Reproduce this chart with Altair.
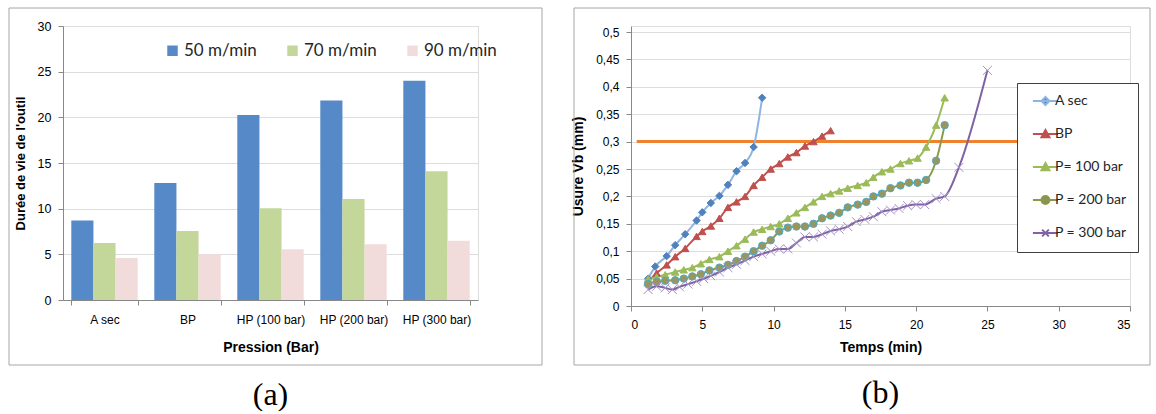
import altair as alt
import pandas as pd

# ---------------- (a) bar chart data ----------------
categories = ["A sec", "BP", "HP (100 bar)", "HP (200 bar)", "HP (300 bar)"]
speeds = ["50 m/min", "70 m/min", "90 m/min"]
life_50 = [8.7, 12.8, 20.25, 21.85, 24.0]
life_70 = [6.25, 7.55, 10.05, 11.05, 14.1]
life_90 = [4.6, 5.0, 5.55, 6.1, 6.5]
bar_colors = ["#5589C7", "#C4D79B", "#F2DCDB"]

# ---------------- (b) wear curves data ----------------
series_names = ["A sec", "BP", "P= 100 bar", "P = 200 bar", "P = 300 bar"]
t_asec = [1.2, 1.7, 2.5, 3.1, 3.8, 4.6, 5.0, 5.6, 6.2, 6.8, 7.4, 8.0, 8.6, 9.2]
v_asec = [0.05, 0.072, 0.091, 0.111, 0.131, 0.156, 0.171, 0.188, 0.201, 0.221, 0.246, 0.261, 0.29, 0.38]
t_bp = [1.2, 1.8, 2.5, 3.1, 3.8, 4.6, 5.0, 5.6, 6.2, 6.8, 7.4, 8.0, 8.6, 9.2, 9.8, 10.4, 11.0, 11.6, 12.2, 12.8, 13.4, 14.0]
v_bp = [0.045, 0.06, 0.075, 0.09, 0.105, 0.127, 0.136, 0.146, 0.16, 0.18, 0.19, 0.2, 0.22, 0.235, 0.25, 0.26, 0.272, 0.28, 0.292, 0.3, 0.31, 0.32]
t_100 = [1.2, 1.8, 2.4, 3.1, 3.7, 4.3, 4.9, 5.5, 6.2, 6.8, 7.4, 8.0, 8.6, 9.2, 9.8, 10.4, 11.0, 11.6, 12.2, 12.8,
         13.4, 14.0, 14.6, 15.2, 15.9, 16.5, 17.0, 17.6, 18.2, 18.9, 19.5, 20.1, 20.7, 21.4, 22.0]
v_100 = [0.05, 0.053, 0.057, 0.062, 0.066, 0.07, 0.077, 0.085, 0.09, 0.1, 0.11, 0.122, 0.135, 0.14, 0.145, 0.15, 0.16, 0.17, 0.18, 0.19,
         0.2, 0.205, 0.21, 0.215, 0.22, 0.225, 0.235, 0.245, 0.25, 0.26, 0.265, 0.27, 0.29, 0.33, 0.38]
t_200 = [1.2, 1.8, 2.4, 3.1, 3.7, 4.3, 4.9, 5.5, 6.2, 6.8, 7.4, 8.0, 8.6, 9.2, 9.8, 10.4, 11.0, 11.6, 12.2, 12.8,
         13.4, 14.0, 14.6, 15.2, 15.9, 16.5, 17.0, 17.6, 18.2, 18.9, 19.5, 20.1, 20.7, 21.4, 22.0]
v_200 = [0.04, 0.044, 0.046, 0.047, 0.05, 0.054, 0.058, 0.065, 0.07, 0.075, 0.082, 0.09, 0.1, 0.11, 0.12, 0.136, 0.143, 0.145, 0.145, 0.15,
         0.16, 0.165, 0.17, 0.18, 0.185, 0.19, 0.2, 0.205, 0.215, 0.22, 0.225, 0.225, 0.23, 0.265, 0.33]
t_300 = [1.2, 1.8, 2.4, 2.9, 3.4, 4.0, 4.6, 5.1, 5.6, 6.2, 6.8, 7.4, 8.0, 8.6, 9.2, 9.8, 10.4, 11.0, 11.6, 12.2,
         12.8, 13.4, 14.0, 14.6, 15.2, 15.8, 16.4, 17.0, 17.6, 18.2, 18.8, 19.4, 20.0, 20.6, 21.4, 22.0, 23.0, 25.0]
v_300 = [0.03, 0.036, 0.033, 0.03, 0.035, 0.04, 0.045, 0.05, 0.055, 0.062, 0.07, 0.076, 0.083, 0.09, 0.095, 0.1, 0.104, 0.104, 0.115, 0.126,
         0.126, 0.131, 0.137, 0.14, 0.145, 0.154, 0.158, 0.163, 0.172, 0.175, 0.178, 0.183, 0.185, 0.185, 0.196, 0.2, 0.253, 0.43]
threshold_start, threshold_end, threshold_value = 0.4, 35, 0.3
y_ticks_b = [0, 0.05, 0.1, 0.15, 0.2, 0.25, 0.3, 0.35, 0.4, 0.45, 0.5]
x_ticks_b = [0, 5, 10, 15, 20, 25, 30, 35]

line_colors = ["#8EB4E3", "#C0504D", "#9BBB59", "#8A9A4C", "#7E62A3"]
marker_fill = ["#4F81BD", "#C0504D", "#9BBB59", "#9A955C", "transparent"]
marker_stroke = ["#4F81BD", "#C0504D", "#9BBB59", "#4BACC6", "#A48FC6"]
marker_shapes = ["diamond", "triangle-up", "triangle-up", "circle", "M-1.2,-1.2L1.2,1.2M1.2,-1.2L-1.2,1.2"]
legend_fill = ["#4F81BD", "#C0504D", "#9BBB59", "#948A54", "transparent"]
# legend glyphs: a short line segment with the series marker in its middle
legend_shapes = [
    "M-0.5,0L5.5,0M2.5,-0.95L3.45,0L2.5,0.95L1.55,0Z",
    "M-0.5,0L5.5,0M2.5,-0.95L3.45,0.75L1.55,0.75Z",
    "M-0.5,0L5.5,0M2.5,-0.95L3.45,0.75L1.55,0.75Z",
    "M-0.5,0L5.5,0M1.55,0A0.95,0.95 0 1,0 3.45,0A0.95,0.95 0 1,0 1.55,0Z",
    "M-0.5,0L5.5,0M1.7,-0.8L3.3,0.8M3.3,-0.8L1.7,0.8",
]

FONT = "Lato"

# ---------------- build tables ----------------
bar_rows = []
for vals, sp in zip([life_50, life_70, life_90], speeds):
    for c, v in zip(categories, vals):
        bar_rows.append({"cat": c, "speed": sp, "val": v})
bar_df = pd.DataFrame(bar_rows)

rows = []
for name, ts, vs in zip(series_names, [t_asec, t_bp, t_100, t_200, t_300], [v_asec, v_bp, v_100, v_200, v_300]):
    for t, v in zip(ts, vs):
        rows.append({"t": t, "v": v, "serie": name})
wear_df = pd.DataFrame(rows)
thr_df = pd.DataFrame({"t": [threshold_start], "t2": [threshold_end], "v": [threshold_value]})
one = pd.DataFrame({"k": [0]})

# ---------------- (a) ----------------
frame_a = alt.Chart(one).mark_rect(filled=False, stroke="#A6A6A6", strokeWidth=1).encode(
    x=alt.value(-54), x2=alt.value(479), y=alt.value(-18), y2=alt.value(339)
)
bars = alt.Chart(bar_df).mark_bar().encode(
    x=alt.X("cat:N", sort=categories, scale=alt.Scale(paddingInner=0.2, paddingOuter=0.1),
            axis=alt.Axis(title="Pression (Bar)", labelAngle=0, tickBand="extent", grid=False,
                          tickSize=5, labelPadding=9, labelFontSize=12, titleFontSize=14,
                          titleFontWeight="bold", titlePadding=15)),
    xOffset=alt.XOffset("speed:N", sort=speeds, scale=alt.Scale(paddingInner=0, paddingOuter=0)),
    y=alt.Y("val:Q", scale=alt.Scale(domain=[0, 30], nice=False),
            axis=alt.Axis(title="Durée de vie de l'outil", values=[0, 5, 10, 15, 20, 25, 30],
                          labelOverlap=False, tickSize=5, labelPadding=7, labelFontSize=12.5,
                          titleFontSize=13, titleFontWeight="bold", titlePadding=10)),
    color=alt.Color("speed:N", sort=speeds, scale=alt.Scale(domain=speeds, range=bar_colors),
                    legend=alt.Legend(title=None, orient="none", legendX=101, legendY=16,
                                      direction="horizontal", symbolType="square", symbolSize=110,
                                      symbolStrokeWidth=0, labelFontSize=17, labelOffset=3,
                                      columnPadding=27, labelColor="#262626", labelFont=FONT)),
)
panel_a = alt.layer(frame_a, bars).properties(
    width=415, height=274,
    title=alt.Title("(a)", orient="bottom", font="Liberation Serif", fontSize=32,
                    fontWeight="normal", color="#000000", offset=14),
)

# ---------------- (b) ----------------
# plot area is 6 px taller than (a) at the top; 0.5 sits 6 px below the top edge
HB = 280
y_top = 0.5 * HB / 274
frame_b = alt.Chart(one).mark_rect(filled=False, stroke="#A6A6A6", strokeWidth=1).encode(
    x=alt.value(-57), x2=alt.value(519), y=alt.value(-18), y2=alt.value(339)
)
x_scale_b = alt.Scale(domain=[0, 35], nice=False)
y_scale_b = alt.Scale(domain=[0, y_top], nice=False)
x_axis_b = alt.Axis(title="Temps (min)", values=x_ticks_b, grid=False,
                    tickSize=5, labelPadding=8, labelFontSize=12, titleFontSize=14,
                    titleFontWeight="bold", titlePadding=10)
y_axis_b = alt.Axis(title="Usure  Vb (mm)", values=y_ticks_b,
                    labelExpr="replace(format(datum.value, '.2~f'), '.', ',')", labelOverlap=False,
                    tickSize=5, labelPadding=7, labelFontSize=12, titleFontSize=14,
                    titleFontWeight="bold", titlePadding=10)
xb = alt.X("t:Q", scale=x_scale_b, axis=x_axis_b)
yb = alt.Y("v:Q", scale=y_scale_b, axis=y_axis_b)

thr = alt.Chart(thr_df).mark_rule(color="#F0812F", strokeWidth=3).encode(
    x=xb, x2="t2:Q", y=yb,
)
lines = alt.Chart(wear_df).mark_line(strokeWidth=2, interpolate="monotone").encode(
    x=xb, y=yb,
    color=alt.Color("serie:N", scale=alt.Scale(domain=series_names, range=line_colors), legend=None),
)
points = alt.Chart(wear_df).mark_point(filled=True, size=55, strokeWidth=1, opacity=1).encode(
    x=xb, y=yb,
    fill=alt.Fill("serie:N", scale=alt.Scale(domain=series_names, range=marker_fill), legend=None),
    stroke=alt.Stroke("serie:N", scale=alt.Scale(domain=series_names, range=marker_stroke), legend=None),
    shape=alt.Shape("serie:N", scale=alt.Scale(domain=series_names, range=marker_shapes), legend=None),
)
leg_props = dict(title=None, orient="none", legendX=386, legendY=57, symbolSize=70,
                 symbolStrokeWidth=2, labelFontSize=14, labelOffset=13, rowPadding=17, padding=11,
                 fillColor="white", strokeColor="#404040", labelColor="#262626", labelFont=FONT)
legend_layer = alt.Chart(wear_df).transform_filter("false").mark_point(
    filled=True, size=70, strokeWidth=2, opacity=1
).encode(
    x=xb, y=yb,
    fill=alt.Fill("serie:N", scale=alt.Scale(domain=series_names, range=legend_fill),
                  legend=alt.Legend(**leg_props)),
    stroke=alt.Stroke("serie:N", scale=alt.Scale(domain=series_names, range=line_colors),
                      legend=alt.Legend(**leg_props)),
    shape=alt.Shape("serie:N", scale=alt.Scale(domain=series_names, range=legend_shapes),
                    legend=alt.Legend(**leg_props)),
)
panel_b = alt.layer(frame_b, thr, lines, points, legend_layer).resolve_scale(
    fill="independent", stroke="independent", shape="independent"
).properties(
    width=499, height=HB,
    title=alt.Title("(b)", orient="bottom", font="Liberation Serif", fontSize=32,
                    fontWeight="normal", color="#000000", offset=12),
)

chart = alt.concat(panel_a, panel_b, columns=2, spacing=28, align="none").resolve_scale(
    color="independent", fill="independent", stroke="independent", shape="independent"
).resolve_legend(
    color="independent", fill="independent", stroke="independent", shape="independent"
).properties(
    padding={"left": 8, "top": 7, "right": 0, "bottom": 0}
).configure_view(strokeWidth=0).configure_axis(
    labelFont=FONT, titleFont=FONT, labelColor="#404040", titleColor="#262626",
    gridColor="#BDBDBD", domainColor="#A6A6A6", tickColor="#A6A6A6", gridWidth=1,
).configure(background="white")

chart.save("out.html", embed_options={"renderer": "svg", "actions": False})
